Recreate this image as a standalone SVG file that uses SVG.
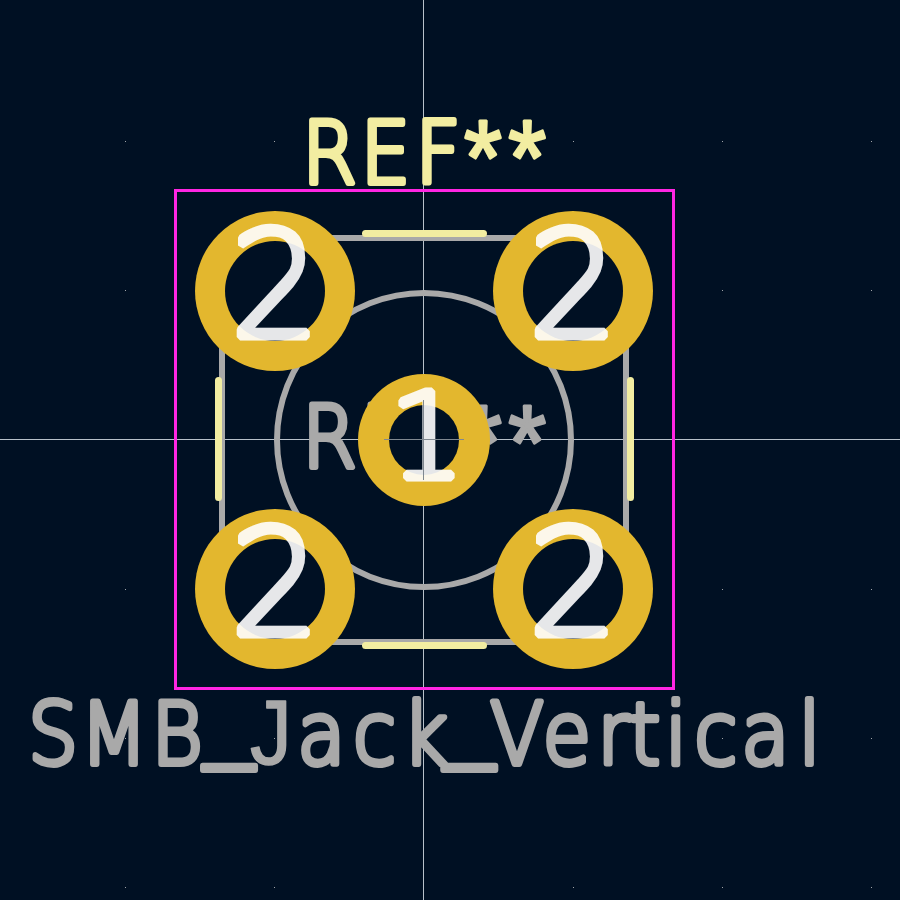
<svg xmlns="http://www.w3.org/2000/svg" width="900" height="900" viewBox="0 0 900 900">
<style>
.dot{fill:#a0a4a8}
.cross{stroke:#b8c1ca;stroke-width:1;fill:none}
.fab{stroke:#a9a9a9;stroke-width:6;fill:none}
.silk{stroke:#f2eda1;stroke-width:7;stroke-linecap:round;fill:none}
.court{stroke:#ff26e2;stroke-width:3;fill:none}
.ref{font-family:"DejaVu Sans",sans-serif;font-weight:200;font-size:85px;text-anchor:middle;stroke-width:6;stroke-linejoin:round;stroke-linecap:round}
.us{font-size:110px;stroke-width:6}
.lib{font-family:"Liberation Sans",sans-serif;font-weight:400;font-size:91px;stroke-width:1.5}
.star{font-family:"Liberation Sans",sans-serif;font-weight:400;font-size:106px;stroke-width:3}
.silkt{fill:#f2eda1;stroke:#f2eda1}
.fabt{fill:#a9a9a9;stroke:#a9a9a9}
.pad{fill:#e3b72e}
.hole{fill:#001023}
.num{font-family:"DejaVu Sans",sans-serif;font-weight:200;text-anchor:middle;fill:#fff;stroke:#fff;opacity:.9;stroke-width:7;stroke-linejoin:bevel}
.mark{stroke:#808890;stroke-width:1;fill:none}
</style>
<defs>
<rect id="d" width="1" height="1" class="dot"/>
</defs>
<rect width="900" height="900" fill="#001023"/>
<g id="grid">
<use href="#d" x="125" y="141"/><use href="#d" x="274" y="141"/><use href="#d" x="573" y="141"/><use href="#d" x="722" y="141"/><use href="#d" x="871" y="141"/>
<use href="#d" x="125" y="290"/><use href="#d" x="722" y="290"/><use href="#d" x="871" y="290"/>
<use href="#d" x="125" y="439"/><use href="#d" x="722" y="439"/><use href="#d" x="871" y="439"/>
<use href="#d" x="125" y="589"/><use href="#d" x="722" y="589"/><use href="#d" x="871" y="589"/>
<use href="#d" x="125" y="738"/><use href="#d" x="274" y="738"/><use href="#d" x="573" y="738"/><use href="#d" x="722" y="738"/><use href="#d" x="871" y="738"/>
<use href="#d" x="125" y="887"/><use href="#d" x="274" y="887"/><use href="#d" x="423" y="887"/><use href="#d" x="573" y="887"/><use href="#d" x="722" y="887"/><use href="#d" x="871" y="887"/>
</g>
<g id="crosshair">
<path class="cross" d="M423.500 0V900M0 439.500H900"/>
</g>
<g id="fabrication">
<rect class="fab" x="222" y="238" width="404" height="404"/>
<circle class="fab" cx="424" cy="440" r="147"/>
</g>
<g id="silkscreen">
<path class="silk" d="M365.500 233.500H483.500M365.500 645.500H483.500M218.500 380.500V497.500M630.500 380.500V497.500"/>
</g>
<g id="courtyard">
<rect class="court" x="175.500" y="190.500" width="498" height="498"/>
</g>
<text id="ref-fab" class="ref fabt" transform="scale(.92 1)" y="467.500"><tspan x="358 419 476">REF</tspan><tspan class="star" x="525 573" y="479">**</tspan></text>
<text id="ref-silk" class="ref silkt" transform="scale(.92 1)" y="183"><tspan x="358 419 476">REF</tspan><tspan class="star" x="525 573" y="194">**</tspan></text>
<text id="value" class="ref fabt" transform="scale(.92 1)" y="764"><tspan x="57.600 124 192.400">SMB</tspan><tspan class="us" x="249" y="744.500">_</tspan><tspan class="lib" x="294.600" y="764">J</tspan><tspan x="349.500 407 462">ack</tspan><tspan class="us" x="510" y="744.500">_</tspan><tspan x="562 616 667 701 735 778 832 880" y="764">Vertical</tspan></text>
<g id="pad-2a"><circle class="pad" cx="275" cy="291" r="80"/><circle class="hole" cx="275" cy="291" r="50"/><text class="num" transform="translate(275.500 337) scale(.96 1)" font-size="148">2</text></g>
<g id="pad-2b"><circle class="pad" cx="573" cy="291" r="80"/><circle class="hole" cx="573" cy="291" r="50"/><text class="num" transform="translate(573.500 337) scale(.96 1)" font-size="148">2</text></g>
<g id="pad-2c"><circle class="pad" cx="275" cy="589" r="80"/><circle class="hole" cx="275" cy="589" r="50"/><text class="num" transform="translate(275.500 635) scale(.96 1)" font-size="148">2</text></g>
<g id="pad-2d"><circle class="pad" cx="573" cy="589" r="80"/><circle class="hole" cx="573" cy="589" r="50"/><text class="num" transform="translate(573.500 635) scale(.96 1)" font-size="148">2</text></g>
<g id="pad-1"><circle class="pad" cx="424" cy="440" r="66"/><circle class="hole" cx="424" cy="440" r="35"/><text class="num" x="427" y="478" font-size="120">1</text>
<path class="mark" d="M423.500 400V480M384 439.500H464"/></g>
</svg>
